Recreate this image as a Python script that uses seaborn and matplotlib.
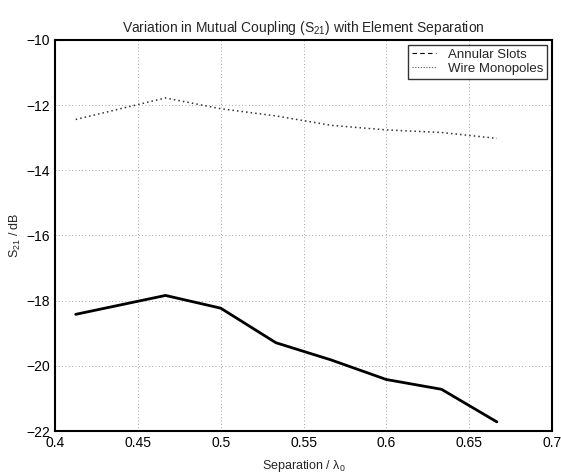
import pandas as pd
import matplotlib
matplotlib.use("Agg")
import matplotlib.pyplot as plt
from matplotlib.lines import Line2D
import seaborn as sns

# Data
separation = [0.4125, 0.4667, 0.5, 0.5333, 0.5667, 0.6, 0.6333, 0.6667]
annular_slots = [-18.42, -17.84, -18.23, -19.29, -19.82, -20.42, -20.72, -21.72]
wire_monopoles = [-12.44, -11.78, -12.11, -12.33, -12.62, -12.76, -12.84, -13.02]
x_ticks = [0.4, 0.45, 0.5, 0.55, 0.6, 0.65, 0.7]
y_ticks = [-22, -20, -18, -16, -14, -12, -10]

df = pd.DataFrame({"Separation": separation,
                   "Annular Slots": annular_slots,
                   "Wire Monopoles": wire_monopoles})

sns.set_style("white")
plt.rcParams["font.family"] = ["Liberation Sans", "DejaVu Sans"]
plt.rcParams["mathtext.fontset"] = "custom"
plt.rcParams["mathtext.rm"] = "Liberation Sans"
plt.rcParams["mathtext.it"] = "Liberation Sans"

fig = plt.figure(figsize=(5.61, 4.74), dpi=100)
ax = fig.add_axes([0.098, 0.0907, 0.886, 0.825])

sns.lineplot(x="Separation", y="Annular Slots", data=df, ax=ax,
             color="black", linewidth=2, linestyle="-")
sns.lineplot(x="Separation", y="Wire Monopoles", data=df, ax=ax,
             color="#333333", linewidth=1.1, linestyle=(0, (1, 2)))

ax.set_xlim(0.4, 0.7)
ax.set_ylim(-22, -10)
ax.set_xticks(x_ticks)
ax.set_xticklabels(["0.4", "0.45", "0.5", "0.55", "0.6", "0.65", "0.7"])
ax.set_yticks(y_ticks)
ax.set_yticklabels([f"\u2212{abs(v)}" for v in y_ticks])
ax.grid(True, linestyle=(0, (1, 3)), color="#888888", linewidth=0.6)
ax.tick_params(direction="in", length=4, labelsize=10, colors="black")
for s in ax.spines.values():
    s.set_color("black")
    s.set_linewidth(1.5)

ax.set_title("Variation in Mutual Coupling (S$_{21}$) with Element Separation",
             fontsize=10, pad=6)
ax.set_xlabel("Separation / \u03bb$_0$", fontsize=9, labelpad=6)
ax.set_ylabel("S$_{21}$ / dB", fontsize=9, labelpad=2)

handles = [Line2D([], [], color="black", linestyle=(0, (4, 3)), linewidth=0.8),
           Line2D([], [], color="#555555", linestyle=(0, (1, 1.5)), linewidth=0.8)]
leg = ax.legend(handles, ["Annular Slots", "Wire Monopoles"], loc="upper right",
                fontsize=9.5, frameon=True, fancybox=False, handlelength=1.8,
                handletextpad=0.9, borderaxespad=0.35, borderpad=0.3,
                labelspacing=0.15)
leg.get_frame().set_edgecolor("black")
leg.get_frame().set_linewidth(1.0)

fig.savefig("out.png", dpi=100)
